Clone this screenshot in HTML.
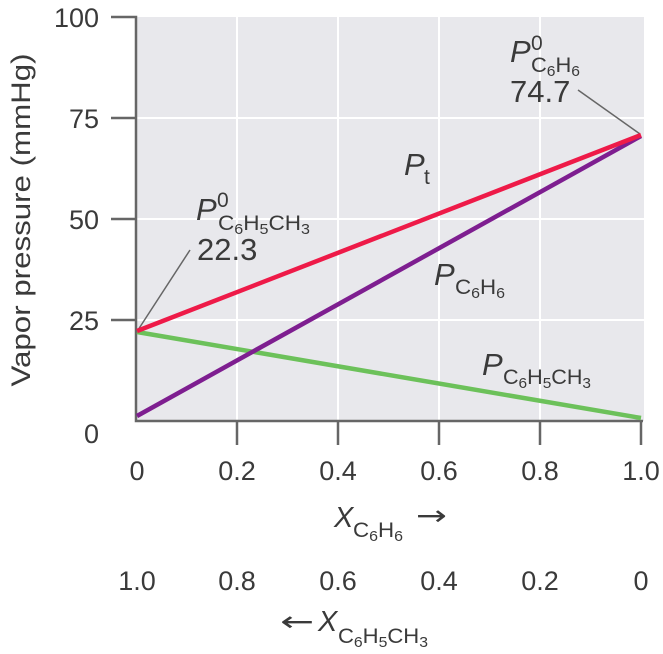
<!DOCTYPE html>
<html><head><style>
body{margin:0;background:#fff}
svg{display:block}
text{font-family:"Liberation Sans",sans-serif;fill:#3a3a3a}
</style></head><body>
<svg width="663" height="654" viewBox="0 0 663 654" xmlns="http://www.w3.org/2000/svg">
<rect x="137" y="17" width="507" height="404" fill="#e8e8ec"/>
<g stroke="#fff" stroke-width="2">
<line x1="237" y1="17" x2="237" y2="421"/><line x1="338" y1="17" x2="338" y2="421"/>
<line x1="439" y1="17" x2="439" y2="421"/><line x1="540" y1="17" x2="540" y2="421"/>
<line x1="137" y1="118" x2="644" y2="118"/><line x1="137" y1="219" x2="644" y2="219"/>
<line x1="137" y1="320" x2="644" y2="320"/>
</g>
<g stroke="#666" stroke-width="2.5" fill="none">
<polyline points="111,17 136,17 136,421 643,421"/>
<line x1="111" y1="118" x2="136" y2="118"/><line x1="111" y1="219" x2="136" y2="219"/>
<line x1="111" y1="320" x2="136" y2="320"/>
<line x1="237" y1="421" x2="237" y2="445"/><line x1="338" y1="421" x2="338" y2="445"/>
<line x1="439" y1="421" x2="439" y2="445"/><line x1="540" y1="421" x2="540" y2="445"/>
<line x1="641" y1="421" x2="641" y2="445"/>
</g>
<g stroke="#666" stroke-width="1.5">
<line x1="190" y1="250" x2="138" y2="330"/>
<line x1="578" y1="90" x2="640" y2="134"/>
</g>
<g stroke-width="4.5" fill="none">
<line x1="137" y1="332" x2="641" y2="418" stroke="#6cc15a"/>
<line x1="137" y1="416" x2="641" y2="136" stroke="#7e1e90"/>
<line x1="137" y1="331" x2="641" y2="135" stroke="#ee1a48"/>
</g>
<g font-size="27" text-anchor="end">
<text x="99" y="27">100</text><text x="99" y="128">75</text><text x="99" y="229">50</text>
<text x="99" y="330">25</text><text x="99" y="443">0</text>
</g>
<g font-size="27" text-anchor="middle">
<text x="137" y="480">0</text><text x="237" y="480">0.2</text><text x="338" y="480">0.4</text>
<text x="439" y="480">0.6</text><text x="540" y="480">0.8</text><text x="641" y="480">1.0</text>
<text x="137" y="590">1.0</text><text x="237" y="590">0.8</text><text x="338" y="590">0.6</text>
<text x="439" y="590">0.4</text><text x="540" y="590">0.2</text><text x="641" y="590">0</text>
</g>
<text transform="translate(30,220) rotate(-90)" font-size="27" text-anchor="middle" textLength="333" lengthAdjust="spacingAndGlyphs">Vapor pressure (mmHg)</text>

<text x="334" y="527" font-size="29" font-style="italic">X</text>
<text x="353" y="537" font-size="21" textLength="50" lengthAdjust="spacingAndGlyphs">C<tspan font-size="15" dy="4">6</tspan><tspan dy="-4">H</tspan><tspan font-size="15" dy="4">6</tspan></text>
<text x="416" y="525" font-size="28" style="font-family:'DejaVu Sans',sans-serif" textLength="31" lengthAdjust="spacingAndGlyphs">→</text>

<text x="280" y="631" font-size="28" style="font-family:'DejaVu Sans',sans-serif" textLength="34" lengthAdjust="spacingAndGlyphs">←</text>
<text x="318" y="631" font-size="29" font-style="italic">X</text>
<text x="338" y="643" font-size="21" textLength="90" lengthAdjust="spacingAndGlyphs">C<tspan font-size="15" dy="4">6</tspan><tspan dy="-4">H</tspan><tspan font-size="15" dy="4">5</tspan><tspan dy="-4">CH</tspan><tspan font-size="15" dy="4">3</tspan></text>

<text x="196" y="220" font-size="31" font-style="italic">P</text>
<text x="217" y="207" font-size="21">0</text>
<text x="218" y="230" font-size="21" textLength="92" lengthAdjust="spacingAndGlyphs">C<tspan font-size="15" dy="4">6</tspan><tspan dy="-4">H</tspan><tspan font-size="15" dy="4">5</tspan><tspan dy="-4">CH</tspan><tspan font-size="15" dy="4">3</tspan></text>
<text x="197" y="260" font-size="31">22.3</text>

<text x="510" y="62" font-size="31" font-style="italic">P</text>
<text x="531" y="50" font-size="21">0</text>
<text x="531" y="72" font-size="21" textLength="49" lengthAdjust="spacingAndGlyphs">C<tspan font-size="15" dy="4">6</tspan><tspan dy="-4">H</tspan><tspan font-size="15" dy="4">6</tspan></text>
<text x="510" y="102" font-size="31">74.7</text>

<text x="404" y="175" font-size="31" font-style="italic">P</text>
<text x="424" y="184" font-size="21">t</text>

<text x="434" y="285" font-size="31" font-style="italic">P</text>
<text x="455" y="294" font-size="21" textLength="50" lengthAdjust="spacingAndGlyphs">C<tspan font-size="15" dy="4">6</tspan><tspan dy="-4">H</tspan><tspan font-size="15" dy="4">6</tspan></text>

<text x="482" y="375" font-size="31" font-style="italic">P</text>
<text x="503" y="384" font-size="21" textLength="88" lengthAdjust="spacingAndGlyphs">C<tspan font-size="15" dy="4">6</tspan><tspan dy="-4">H</tspan><tspan font-size="15" dy="4">5</tspan><tspan dy="-4">CH</tspan><tspan font-size="15" dy="4">3</tspan></text>
</svg>
</body></html>
